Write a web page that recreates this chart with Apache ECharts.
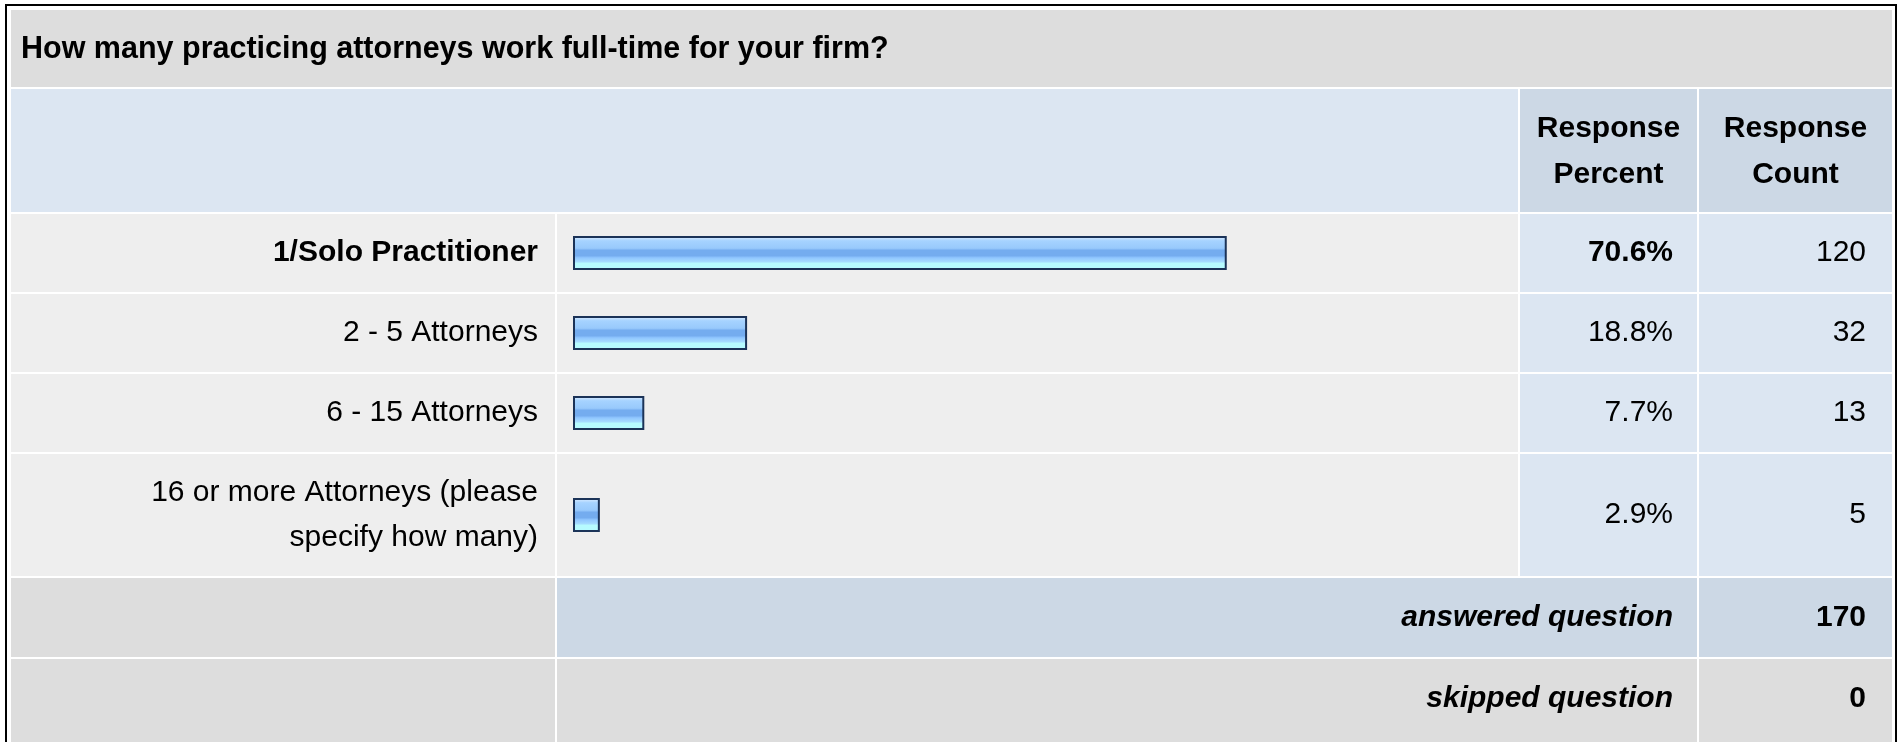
<!DOCTYPE html>
<html>
<head>
<meta charset="utf-8">
<script src="https://cdn.jsdelivr.net/npm/echarts@6/dist/echarts.min.js"></script>
<style>
  html, body { margin: 0; padding: 0; background: #ffffff; overflow: hidden; }
  #chart { width: 1903px; height: 742px; }
</style>
</head>
<body>
<div id="chart"></div>
<script>
// Survey question and its answers
const question = 'How many practicing attorneys work full-time for your firm?';
const categories = [
  '1/Solo Practitioner',
  '2 - 5 Attorneys',
  '6 - 15 Attorneys',
  '16 or more Attorneys (please\nspecify how many)'
];
const percents = [70.6, 18.8, 7.7, 2.9];
const counts = [120, 32, 13, 5];
const headerLabels = ['Response\nPercent', 'Response\nCount'];
const summaryLabels = ['answered question', 'skipped question'];
const summaryValues = [170, 0];

// Table geometry
const FONT = '"Liberation Sans", Arial, Helvetica, sans-serif';
const FS = 30;
const col = { x0: 11, labelEnd: 555, bar0: 557, barEnd: 1518, pct0: 1520, pctEnd: 1697, cnt0: 1699, cntEnd: 1892 };
const titleRow = [10, 87];
const headerRow = [89, 212];
const dataRows = [[214, 292], [294, 372], [374, 452], [454, 576]];
const summaryRows = [[578, 657], [659, 760]];
const BAR_LEFT = 573;
const BAR_SPAN = 926;          // width of 0..100 %

const C = {
  title: '#dddddd',
  headLight: '#dce6f2',
  headDark: '#ccd8e5',
  rowGrey: '#eeeeee',
  rowBlue: '#dce6f2',
  text: '#000000'
};

function cell(x0, x1, y, fill) {
  return { type: 'rect', silent: true, z: -10,
    shape: { x: x0, y: y[0], width: x1 - x0, height: y[1] - y[0] },
    style: { fill: fill } };
}
function txt(x, y, text, opts) {
  opts = opts || {};
  return { type: 'text', silent: true, z: 10, x: x, y: y,
    style: {
      text: text, fill: C.text, fontFamily: FONT, fontSize: opts.size || FS,
      fontWeight: opts.bold ? 'bold' : 'normal',
      fontStyle: opts.italic ? 'italic' : 'normal',
      align: opts.align || 'left', verticalAlign: 'middle',
      lineHeight: opts.lineHeight || FS
    } };
}
const mid = r => (r[0] + r[1]) / 2;

const graphics = [];
// outer frame
graphics.push({ type: 'rect', silent: true, z: -20,
  shape: { x: 6, y: 5, width: 1890, height: 800 },
  style: { fill: '#ffffff', stroke: '#000000', lineWidth: 2 } });
// title
graphics.push(cell(col.x0, col.cntEnd, titleRow, C.title));
graphics.push(txt(21, mid(titleRow) + 1, question, { bold: true, size: 30.5 }));
// header
graphics.push(cell(col.x0, col.barEnd, headerRow, C.headLight));
graphics.push(cell(col.pct0, col.pctEnd, headerRow, C.headDark));
graphics.push(cell(col.cnt0, col.cntEnd, headerRow, C.headDark));
graphics.push(txt((col.pct0 + col.pctEnd) / 2, mid(headerRow) + 1, headerLabels[0], { bold: true, align: 'center', lineHeight: 46 }));
graphics.push(txt((col.cnt0 + col.cntEnd) / 2, mid(headerRow) + 1, headerLabels[1], { bold: true, align: 'center', lineHeight: 46 }));
// answer rows
const topIdx = percents.indexOf(Math.max.apply(null, percents));
dataRows.forEach((r, i) => {
  graphics.push(cell(col.x0, col.labelEnd, r, C.rowGrey));
  graphics.push(cell(col.bar0, col.barEnd, r, C.rowGrey));
  graphics.push(cell(col.pct0, col.pctEnd, r, C.rowBlue));
  graphics.push(cell(col.cnt0, col.cntEnd, r, C.rowBlue));
  graphics.push(txt(1673, mid(r), percents[i].toFixed(1) + '%', { bold: i === topIdx, align: 'right' }));
  graphics.push(txt(1866, mid(r), String(counts[i]), { align: 'right' }));
});
// summary rows
const summaryFill = [C.headDark, C.title];
summaryRows.forEach((r, i) => {
  graphics.push(cell(col.x0, col.labelEnd, r, C.title));
  graphics.push(cell(col.bar0, col.pctEnd, r, summaryFill[i]));
  graphics.push(cell(col.cnt0, col.cntEnd, r, summaryFill[i]));
  const cy = i === 0 ? mid(r) : r[0] + 40;
  graphics.push(txt(1673, cy, summaryLabels[i], { bold: true, italic: true, align: 'right' }));
  graphics.push(txt(1866, cy, String(summaryValues[i]), { bold: true, align: 'right' }));
});

// glossy bar fill
const barFill = new echarts.graphic.LinearGradient(0, 0, 0, 1, [
  { offset: 0.00, color: '#d4eaff' },
  { offset: 0.08, color: '#c2e0ff' },
  { offset: 0.14, color: '#a6d3ff' },
  { offset: 0.36, color: '#98c9fc' },
  { offset: 0.42, color: '#74acef' },
  { offset: 0.58, color: '#74acef' },
  { offset: 0.64, color: '#90c6ff' },
  { offset: 0.76, color: '#a6dcff' },
  { offset: 0.80, color: '#b6fbff' },
  { offset: 1.00, color: '#b6fbff' }
]);

// one grid per answer row so each bar sits in its own table row
const grids = [], xAxes = [], yAxes = [], series = [];
dataRows.forEach((r, i) => {
  grids.push({ left: BAR_LEFT, width: BAR_SPAN, top: r[0], height: r[1] - r[0], containLabel: false });
  xAxes.push({ type: 'value', gridIndex: i, min: 0, max: 100, show: false });
  yAxes.push({
    type: 'category', gridIndex: i, data: [categories[i]],
    axisLine: { show: false }, axisTick: { show: false }, splitLine: { show: false },
    axisLabel: {
      margin: 35, color: C.text, fontFamily: FONT, fontSize: FS,
      fontWeight: i === topIdx ? 'bold' : 'normal', lineHeight: 45, align: 'right'
    }
  });
  series.push({
    type: 'bar', xAxisIndex: i, yAxisIndex: i, data: [percents[i]],
    barWidth: 34, silent: true,
    itemStyle: { color: barFill, borderColor: '#1b3358', borderWidth: 2 }
  });
});

const chart = echarts.init(document.getElementById('chart'), null, { renderer: 'canvas' });
chart.setOption({
  animation: false,
  backgroundColor: '#ffffff',
  grid: grids,
  xAxis: xAxes,
  yAxis: yAxes,
  series: series,
  graphic: { elements: graphics }
});
</script>
</body>
</html>
